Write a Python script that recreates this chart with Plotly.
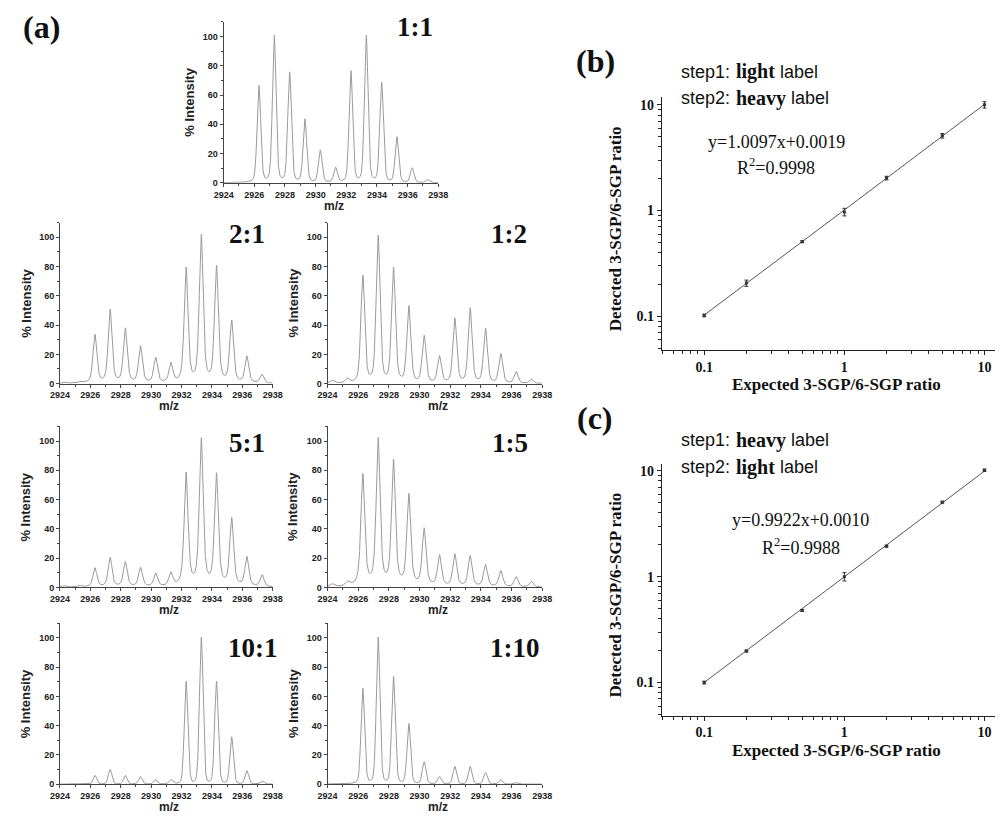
import numpy as np
import plotly.graph_objects as go

W, H = 1005, 816

# ---------------- data: panel (a) isotope peak lists ----------------
peak_mz = [2924.3, 2925.3, 2926.3, 2927.3, 2928.3, 2929.3, 2930.3, 2931.3,
           2932.3, 2933.3, 2934.3, 2935.3, 2936.3, 2937.3]
ratio_labels = ["1:1", "2:1", "1:2", "5:1", "1:5", "10:1", "1:10"]
int_1_1 = [0, 0, 66, 100, 75, 43, 22, 10, 76, 100, 68, 31, 10, 2]
int_2_1 = [1, 1, 33, 50, 37, 25, 17, 13, 78, 100, 79, 42, 18, 6]
int_1_2 = [2, 3, 73, 100, 78, 52, 32, 18, 44, 51, 37, 20, 8, 3]
int_5_1 = [1, 1, 13, 20, 17, 13, 9, 9, 77, 100, 76, 46, 20, 8]
int_1_5 = [2, 3, 76, 100, 85, 62, 39, 21, 22, 21, 15, 11, 7, 4]
int_10_1 = [0, 0, 6, 10, 6, 5, 3, 3, 70, 100, 70, 32, 9, 2]
int_1_10 = [0, 0, 65, 100, 73, 41, 15, 5, 12, 12, 8, 3, 1, 0]
intensities = [int_1_1, int_2_1, int_1_2, int_5_1, int_1_5, int_10_1, int_1_10]

# ---------------- data: panels (b) and (c) ----------------
expected = [0.1, 0.2, 0.5, 1, 2, 5, 10]
detected_b = [0.102, 0.206, 0.508, 0.97, 2.03, 5.1, 10.0]
err_b = [0.003, 0.014, 0.01, 0.08, 0.08, 0.25, 0.7]
slope_b, icpt_b = 1.0097, 0.0019
detected_c = [0.1, 0.198, 0.48, 1.0, 1.94, 5.05, 10.1]
err_c = [0.003, 0.004, 0.01, 0.09, 0.04, 0.1, 0.25]
slope_c, icpt_c = 0.9922, 0.0010

# ---------------- style / layout config ----------------
# panel boxes in pixels: (x_left, x_right, y_top, y_bottom)
spec_boxes = [(218, 437, 22, 184), (51, 268, 224, 386), (324, 543, 224, 386),
              (51, 268, 429, 591), (324, 543, 429, 591),
              (51, 268, 627, 789), (324, 543, 627, 789)]
label_pos = [(413, 27), (242, 235), (509, 235), (242, 446), (510, 446),
             (248, 652), (515, 652)]
peak_hwhm = [0.14, 0.15, 0.15, 0.15, 0.15, 0.14, 0.14]
peak_eta = [0.25, 0.5, 0.4, 0.6, 0.6, 0.15, 0.2]

SANS = "Liberation Sans"
SERIF = "Liberation Serif"
AX = "#444444"


def dx(a, b):
    return [a / W, b / W]


def dy(top, bottom):
    return [1 - bottom / H, 1 - top / H]


def px(x):
    return x / W


def py(y):
    return 1 - y / H


fig = go.Figure()
annotations = []
layout_axes = {}

mz_grid = np.linspace(2924, 2938, 1401)

for i, (ints, box) in enumerate(zip(intensities, spec_boxes)):
    n = i + 1
    g = peak_hwhm[i]
    eta = peak_eta[i]
    prof = np.zeros_like(mz_grid)
    for c, h in zip(peak_mz, ints):
        d = (mz_grid - c) / g
        prof += h * (eta / (1 + d ** 2) + (1 - eta) * np.exp(-np.log(2) * d ** 2))
    xa = "x" if n == 1 else f"x{n}"
    ya = "y" if n == 1 else f"y{n}"
    fig.add_trace(go.Scatter(x=mz_grid, y=prof, mode="lines",
                             line=dict(color="#9a9a9a", width=1),
                             xaxis=xa, yaxis=ya, hoverinfo="skip"))
    x0, x1, yt, yb = box
    key_x = "xaxis" if n == 1 else f"xaxis{n}"
    key_y = "yaxis" if n == 1 else f"yaxis{n}"
    layout_axes[key_x] = dict(
        domain=dx(x0, x1), anchor=ya, range=[2924, 2938],
        tick0=2924, dtick=2, ticks="outside", ticklen=3, tickwidth=1,
        tickcolor=AX, showline=True, linecolor=AX, linewidth=1,
        showgrid=False, zeroline=False,
        tickfont=dict(family=SANS, size=9, color="#222", weight="bold"),
        minor=dict(ticks="outside", ticklen=2, dtick=1, tick0=2924, tickcolor=AX))
    layout_axes[key_y] = dict(
        domain=dy(yt, yb), anchor=xa, range=[0, 110],
        tick0=0, dtick=20, ticks="outside", ticklen=3, tickwidth=1,
        tickcolor=AX, showline=True, linecolor=AX, linewidth=1,
        showgrid=False, zeroline=False,
        tickfont=dict(family=SANS, size=9, color="#222", weight="bold"),
        minor=dict(ticks="outside", ticklen=2, dtick=10, tick0=0, tickcolor=AX))
    # axis titles
    annotations.append(dict(x=px((x0 + x1) / 2 + 3), y=py(yb + 23), xref="paper", yref="paper",
                            text="<b>m/z</b>", showarrow=False,
                            font=dict(family=SANS, size=12, color="#222"),
                            xanchor="center", yanchor="middle"))
    annotations.append(dict(x=px(x0 - 35), y=py((yt + yb) / 2), xref="paper", yref="paper",
                            text="<b>% Intensity</b>", showarrow=False, textangle=-90,
                            font=dict(family=SANS, size=13, color="#222"),
                            xanchor="center", yanchor="middle"))
    lx, ly = label_pos[i]
    annotations.append(dict(x=px(lx), y=py(ly), xref="paper", yref="paper",
                            text=f"<b>{ratio_labels[i]}</b>", showarrow=False,
                            font=dict(family=SERIF, size=27, color="#111"),
                            xanchor="center", yanchor="middle"))

# ---------------- panels (b) and (c) ----------------
minor_vals = [0.05, 0.06, 0.07, 0.08, 0.09, 0.2, 0.3, 0.4, 0.5, 0.6, 0.7, 0.8, 0.9,
              2, 3, 4, 5, 6, 7, 8, 9]

cal_panels = [
    dict(n=8, det=detected_b, err=err_b, slope=slope_b, icpt=icpt_b,
         xr=[-1.303, 1.075], yr=[-1.317, 1.07], ybox=(98, 352),
         tag="(b)", tagpos=(597, 61),
         steps=[("step1:", "light", 72), ("step2:", "heavy", 99)],
         eq="y=1.0097x+0.0019", r2="R<sup>2</sup>=0.9998", eqpos=(782, 143, 168)),
    dict(n=9, det=detected_c, err=err_c, slope=slope_c, icpt=icpt_c,
         xr=[-1.303, 1.075], yr=[-1.312, 1.062], ybox=(467, 720),
         tag="(c)", tagpos=(597, 421),
         steps=[("step1:", "heavy", 443), ("step2:", "light", 470)],
         eq="y=0.9922x+0.0010", r2="R<sup>2</sup>=0.9988", eqpos=(807, 523, 550)),
]
word_end = {"light": 784, "heavy": 795}

for p in cal_panels:
    n = p["n"]
    xa, ya = f"x{n}", f"y{n}"
    fit_y = [p["slope"] * v + p["icpt"] for v in expected]
    fig.add_trace(go.Scatter(x=expected, y=fit_y, mode="lines",
                             line=dict(color="#555555", width=1),
                             xaxis=xa, yaxis=ya, hoverinfo="skip"))
    fig.add_trace(go.Scatter(x=expected, y=p["det"], mode="markers",
                             marker=dict(symbol="square", size=3, color="#333"),
                             error_y=dict(type="data", array=p["err"], visible=True,
                                          thickness=1, width=2, color="#333"),
                             xaxis=xa, yaxis=ya, hoverinfo="skip"))
    yt, yb = p["ybox"]
    common = dict(type="log", ticks="outside", ticklen=4, tickwidth=1, tickcolor="#222",
                  showline=True, linecolor="#222", linewidth=1, showgrid=False,
                  zeroline=False, tickmode="array", tickvals=[0.1, 1, 10],
                  ticktext=["0.1", "1", "10"],
                  tickfont=dict(family=SERIF, size=14, color="#111", weight="bold"),
                  minor=dict(ticks="outside", ticklen=3, tickmode="array",
                             tickvals=minor_vals, tickcolor="#222"))
    layout_axes[f"xaxis{n}"] = dict(common, domain=dx(665, 1005), anchor=ya, range=p["xr"])
    layout_axes[f"yaxis{n}"] = dict(common, domain=dy(yt, yb), anchor=xa, range=p["yr"])
    annotations.append(dict(x=px(843), y=py(yb + 35), xref="paper", yref="paper",
                            text="<b>Expected 3-SGP/6-SGP ratio</b>", showarrow=False,
                            font=dict(family=SERIF, size=17, color="#111"),
                            xanchor="center", yanchor="middle"))
    annotations.append(dict(x=px(618), y=py((yt + yb) / 2 + 5), xref="paper", yref="paper",
                            text="<b>Detected 3-SGP/6-SGP ratio</b>", showarrow=False,
                            textangle=-90,
                            font=dict(family=SERIF, size=17, color="#111"),
                            xanchor="center", yanchor="middle"))
    tx, ty = p["tagpos"]
    annotations.append(dict(x=px(tx), y=py(ty), xref="paper", yref="paper",
                            text=f"<b>{p['tag']}</b>", showarrow=False,
                            font=dict(family=SERIF, size=32, color="#111"),
                            xanchor="center", yanchor="middle"))
    for step, word, yy in p["steps"]:
        annotations.append(dict(x=px(683), y=py(yy), xref="paper", yref="paper",
                                text=step, showarrow=False,
                                font=dict(family=SANS, size=18, color="#111"),
                                xanchor="left", yanchor="middle"))
        annotations.append(dict(x=px(739), y=py(yy), xref="paper", yref="paper",
                                text=f"<b>{word}</b>", showarrow=False,
                                font=dict(family=SERIF, size=20, color="#111"),
                                xanchor="left", yanchor="middle"))
        annotations.append(dict(x=px(word_end[word]), y=py(yy), xref="paper", yref="paper",
                                text="label", showarrow=False,
                                font=dict(family=SANS, size=18, color="#111"),
                                xanchor="left", yanchor="middle"))
    ex, ey1, ey2 = p["eqpos"]
    annotations.append(dict(x=px(ex), y=py(ey1), xref="paper", yref="paper",
                            text=p["eq"], showarrow=False,
                            font=dict(family=SERIF, size=18, color="#111"),
                            xanchor="center", yanchor="middle"))
    annotations.append(dict(x=px(ex), y=py(ey2), xref="paper", yref="paper",
                            text=p["r2"], showarrow=False,
                            font=dict(family=SERIF, size=18, color="#111"),
                            xanchor="center", yanchor="middle"))

annotations.append(dict(x=px(32), y=py(27), xref="paper", yref="paper",
                        text="<b>(a)</b>", showarrow=False,
                        font=dict(family=SERIF, size=32, color="#111"),
                        xanchor="center", yanchor="middle"))

fig.update_layout(width=W, height=H, margin=dict(l=0, r=0, t=0, b=0),
                  paper_bgcolor="white", plot_bgcolor="white",
                  showlegend=False, annotations=annotations, **layout_axes)

fig.write_html("out.html")
